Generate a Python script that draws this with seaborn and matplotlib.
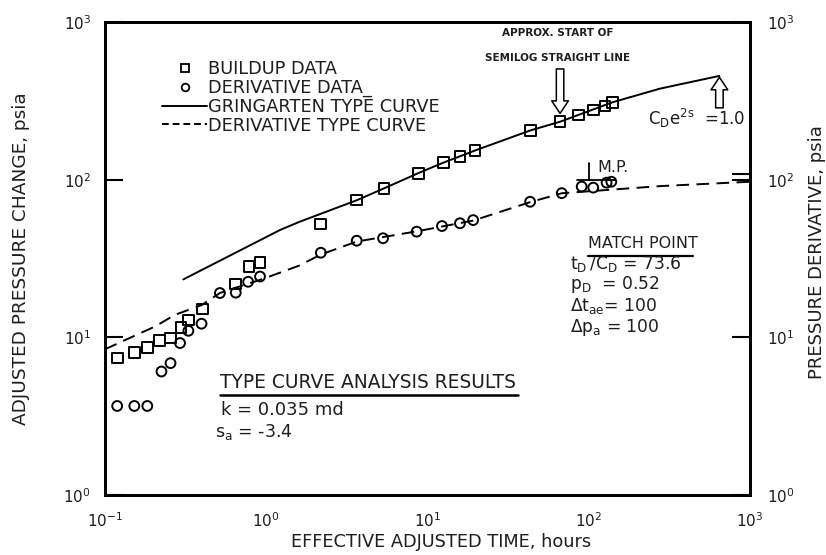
import matplotlib
matplotlib.use("Agg")
import matplotlib.pyplot as plt
import seaborn as sns
from matplotlib.lines import Line2D
from matplotlib.ticker import FixedLocator, NullLocator, LogFormatterMathtext

# Buildup pressure change (squares), hours / psia
buildup_t = [0.119, 0.153, 0.184, 0.217, 0.255, 0.296, 0.329, 0.401, 0.647,
             0.781, 0.915, 2.18, 3.64, 5.37, 8.77, 12.5, 15.9, 19.7, 43.3,
             66.4, 86.1, 106.6, 126, 141]
buildup_dp = [7.4, 8.0, 8.6, 9.5, 9.9, 11.6, 12.9, 15.1, 21.8,
              28.1, 29.9, 52.4, 74.3, 88.1, 109.8, 128, 141, 153, 205,
              233, 257, 277, 293, 310]

# Pressure derivative (circles)
deriv_t = [0.119, 0.152, 0.183, 0.224, 0.255, 0.292, 0.329, 0.397, 0.516,
           0.647, 0.772, 0.915, 2.18, 3.64, 5.3, 8.57, 12.3, 15.9, 19.2,
           43.3, 68, 90.4, 106.6, 129, 138]
deriv_dp = [3.67, 3.67, 3.67, 6.07, 6.86, 9.2, 11.0, 12.2, 19.1,
            19.2, 22.5, 24.3, 34.4, 41.0, 42.5, 46.8, 50.8, 52.9, 55.4,
            72.4, 82.1, 90.4, 89, 95.7, 97]

# Matched Gringarten type curve
gring_t = [0.306, 1.22, 1.62, 3.64, 5.37, 8.77, 12.5, 19.7, 43.3, 66.4, 141, 277, 646]
gring_dp = [23.3, 48, 54.2, 74, 88, 110, 128, 153, 205, 233, 310, 378, 455]

# Matched derivative type curve
dtype_t = [0.1, 0.133, 0.204, 0.272, 0.397, 0.516, 0.98, 1.6, 2.18, 3.64,
           8.57, 19.2, 43.3, 68, 277, 1000]
dtype_dp = [8.4, 9.6, 11.7, 13.9, 16.0, 19.1, 23.7, 28.5, 33.5, 40.5,
            47, 55, 72, 82, 91, 97]

# Match point
mp_t, mp_dp = 100, 100

x_ticks = [1e-1, 1e0, 1e1, 1e2, 1e3]
y_ticks = [1e0, 1e1, 1e2, 1e3]

sns.set_theme(style="white")
plt.rcParams['font.family'] = ['DejaVu Sans']
plt.rcParams['mathtext.fontset'] = 'dejavusans'

INK = '#1e1e1e'

fig = plt.figure(figsize=(8.26, 5.55), dpi=100)
ax = fig.add_axes([0.1271, 0.1081, 0.7809, 0.8523])

sns.lineplot(x=gring_t, y=gring_dp, ax=ax, color='black', lw=1.4,
             sort=False, estimator=None)
sns.lineplot(x=dtype_t, y=dtype_dp, ax=ax, color='black', lw=1.4,
             linestyle=(0, (6.5, 3.8)), sort=False, estimator=None)
sns.scatterplot(x=buildup_t, y=buildup_dp, ax=ax, marker='s', s=60,
                color='black', facecolor='none', edgecolor='black',
                linewidth=1.4, zorder=3)
sns.scatterplot(x=deriv_t, y=deriv_dp, ax=ax, marker='o', s=50,
                color='black', facecolor='none', edgecolor='black',
                linewidth=1.4, zorder=3)

ax.set_xscale('log')
ax.set_yscale('log')
ax.set_xlim(1e-1, 1e3)
ax.set_ylim(1e0, 1e3)
ax.xaxis.set_major_locator(FixedLocator(x_ticks))
ax.yaxis.set_major_locator(FixedLocator(y_ticks))
ax.xaxis.set_minor_locator(NullLocator())
ax.yaxis.set_minor_locator(NullLocator())
ax.xaxis.set_major_formatter(LogFormatterMathtext())
ax.yaxis.set_major_formatter(LogFormatterMathtext())
ax.tick_params(axis='both', which='major', direction='in', length=13,
               width=1.5, color='black', labelsize=11, labelcolor=INK)
ax.tick_params(axis='x', pad=12)
ax.tick_params(axis='y', pad=10)
for sp in ax.spines.values():
    sp.set_linewidth(2)
    sp.set_color('black')

ax.set_xlabel("EFFECTIVE ADJUSTED TIME, hours", fontsize=12.8, color=INK)
ax.xaxis.set_label_coords(0.521, -0.080)
ax.set_ylabel("ADJUSTED PRESSURE CHANGE, psia", fontsize=13.3, labelpad=24,
              color=INK)

# Right-hand derivative axis
ax2 = ax.twinx()
ax2.set_yscale('log')
ax2.set_ylim(1e0, 1e3)
ax2.yaxis.set_major_locator(FixedLocator(y_ticks))
ax2.yaxis.set_minor_locator(FixedLocator([108]))
ax2.yaxis.set_major_formatter(LogFormatterMathtext())
ax2.yaxis.set_minor_formatter(plt.NullFormatter())
ax2.tick_params(axis='y', which='both', direction='in', length=13, width=1.5,
                color='black', labelsize=11, labelcolor=INK, pad=12)
for sp in ax2.spines.values():
    sp.set_linewidth(2)
    sp.set_color('black')
fig.text(0.989, 0.546, "PRESSURE DERIVATIVE, psia", rotation=90,
         ha='center', va='center', fontsize=13, color=INK)

# Legend
handles = [
    Line2D([], [], marker='s', ls='none', mfc='none', mec='black', ms=6, mew=1.3),
    Line2D([], [], marker='o', ls='none', mfc='none', mec='black', ms=5.5, mew=1.3),
    Line2D([], [], color='black', lw=1.4),
    Line2D([], [], color='black', lw=1.4, ls=(0, (3.5, 2))),
]
labels = ["BUILDUP DATA", "DERIVATIVE DATA_", "GRINGARTEN TYPE CURVE",
          "DERIVATIVE TYPE CURVE"]
ax.legend(handles, labels, loc='upper left', bbox_to_anchor=(0.078, 0.934),
          frameon=False, fontsize=12.8, handlelength=2.5, handletextpad=0.08,
          labelspacing=0.04, borderaxespad=0, labelcolor=INK)

# Annotations
txt = dict(transform=ax.transAxes, color=INK)
ax.text(0.702, 0.977, "APPROX. START OF", ha='center', va='center',
        fontsize=7.5, fontweight='bold', **txt)
ax.text(0.702, 0.924, "SEMILOG STRAIGHT LINE", ha='center', va='center',
        fontsize=7.5, fontweight='bold', **txt)
arrow = dict(arrowstyle="simple,head_length=0.75,head_width=1.0,tail_width=0.45",
             fc='white', ec='black', lw=1.1)
ax.annotate("", xy=(buildup_t[19], buildup_dp[19]), xycoords='data',
            xytext=(0, 38), textcoords='offset points',
            arrowprops=dict(shrinkA=0, shrinkB=6, **arrow))
ax.annotate("", xy=(gring_t[-1], gring_dp[-1]), xycoords='data',
            xytext=(0, -23), textcoords='offset points',
            arrowprops=dict(shrinkA=0, shrinkB=1, **arrow))
ax.text(0.842, 0.797, r"$\mathregular{C_De^{2s}}$  =1.0", ha='left',
        va='center', fontsize=12, **txt)

# Match point marker
ax.plot([84.6, 145], [mp_dp, mp_dp], color='black', lw=1.3)
ax.plot([mp_t, mp_t], [mp_dp, 128], color='black', lw=1.3)
ax.text(0.763, 0.693, "M.P.", ha='left', va='center', fontsize=11.5, **txt)

ax.text(0.749, 0.531, "MATCH POINT", ha='left', va='center', fontsize=11.5, **txt)
ax.plot([0.749, 0.912], [0.506, 0.506], transform=ax.transAxes,
        color='black', lw=1.6)
ax.text(0.721, 0.488, r"$\mathregular{t_D\,/C_D}$ = 73.6", ha='left',
        va='center', fontsize=12.3, **txt)
ax.text(0.721, 0.444, r"$\mathregular{p_D}$  = 0.52", ha='left',
        va='center', fontsize=12.3, **txt)
ax.text(0.721, 0.400, r"$\mathregular{\Delta t_{ae}}$= 100", ha='left',
        va='center', fontsize=12.3, **txt)
ax.text(0.721, 0.355, r"$\mathregular{\Delta p_a}$ = 100", ha='left',
        va='center', fontsize=12.3, **txt)

ax.text(0.178, 0.237, "TYPE CURVE ANALYSIS RESULTS", ha='left', va='center',
        fontsize=13.4, **txt)
ax.plot([0.178, 0.640], [0.211, 0.211], transform=ax.transAxes,
        color='black', lw=1.8)
ax.text(0.180, 0.180, "k = 0.035 md", ha='left', va='center', fontsize=13, **txt)
ax.text(0.171, 0.133, r"$\mathregular{s_a}$ = -3.4", ha='left', va='center',
        fontsize=12.5, **txt)

fig.savefig("out.png", dpi=100)
